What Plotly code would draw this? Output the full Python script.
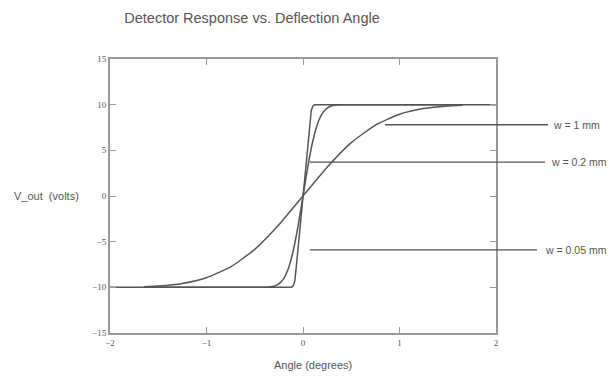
import plotly.graph_objects as go

# ---- data ----
x_w1 = [-1.65, -1.5, -1.25, -1.0, -0.75, -0.5, -0.25, 0.0, 0.25, 0.5, 0.75, 1.0, 1.25, 1.5, 1.65]
y_w1 = [-9.93, -9.85, -9.57, -8.95, -7.77, -5.84, -3.15, 0.0, 3.15, 5.84, 7.77, 8.95, 9.57, 9.85, 9.93]

x_w02 = [-1.65, -0.5, -0.4, -0.35, -0.3, -0.25, -0.2, -0.15, -0.1, -0.05, 0.0, 0.05, 0.1, 0.15, 0.2, 0.25, 0.3, 0.35, 0.4, 0.5, 1.65]
y_w02 = [-10.0, -10.0, -9.99, -9.96, -9.88, -9.63, -9.04, -7.88, -5.94, -3.22, 0.0, 3.22, 5.94, 7.88, 9.04, 9.63, 9.88, 9.96, 9.99, 10.0, 10.0]

x_w005 = [-2.0, -0.12, -0.1, -0.085, -0.07, -0.035, 0.0, 0.035, 0.07, 0.085, 0.1, 0.12, 2.0]
y_w005 = [-10.0, -10.0, -9.8, -9.3, -7.8, -3.9, 0.0, 3.9, 7.8, 9.3, 9.8, 10.0, 10.0]

labels = ["w = 1 mm", "w = 0.2 mm", "w = 0.05 mm"]
label_y = [7.8, 3.7, -5.9]
label_x_start = [0.85, 0.07, 0.07]

x_ticks = [-2, -1, 0, 1, 2]
y_ticks = [-15, -10, -5, 0, 5, 10, 15]
x_range = [-2, 2]
y_range = [-15, 15]

curve_color = "#555555"
frame_color = "#999999"
text_color = "#555555"

# page has an 8px body margin: work in page pixels and subtract it
OFF = 8
W, H = 614, 377
L, R, T, B = 110, 496, 59, 333

fig = go.Figure()
shapes_opts = [(x_w005, y_w005, "linear"), (x_w02, y_w02, "spline"), (x_w1, y_w1, "spline")]
for xs, ys, shp in shapes_opts:
    fig.add_trace(go.Scatter(x=xs, y=ys, mode="lines",
                             line=dict(color=curve_color, width=1.5, shape=shp, smoothing=0.5),
                             showlegend=False, hoverinfo="skip"))

def to_paper(xv):
    return (xv - x_range[0]) / (x_range[1] - x_range[0])

def px_to_paper_x(p):
    return (p - L) / (R - L)

def px_to_paper_y(p):
    return (B - p) / (B - T)

label_end_px = [548, 545, 537]   # right end of leader lines (page pixels)
text_px = [553, 551, 545]
for lab, yv, xs, ep, tp in zip(labels, label_y, label_x_start, label_end_px, text_px):
    fig.add_shape(type="line", xref="paper", yref="y", x0=to_paper(xs), x1=px_to_paper_x(ep), y0=yv, y1=yv,
                  line=dict(color=curve_color, width=1.3), layer="above")
    fig.add_annotation(xref="paper", yref="y", x=px_to_paper_x(tp), y=yv, text=lab, showarrow=False,
                       xanchor="left", yanchor="middle", xshift=-2,
                       font=dict(family="Liberation Sans, Arial", size=10.5, color=text_color))

axis_common = dict(showgrid=False, zeroline=False, showline=True, linecolor=frame_color, linewidth=2,
                   mirror="ticks", ticks="inside", ticklen=6, tickwidth=1.2, tickcolor=frame_color,
                   tickfont=dict(family="Liberation Serif, Times New Roman", size=9, color=text_color))

fig.update_xaxes(range=x_range, tickvals=x_ticks, **axis_common)
fig.update_yaxes(range=y_range, tickvals=y_ticks, **axis_common)

fig.add_annotation(xref="paper", yref="y", x=px_to_paper_x(46), y=0, text="V_out  (volts)", showarrow=False,
                   xanchor="center", yanchor="middle",
                   font=dict(family="Liberation Sans, Arial", size=11, color=text_color))
fig.add_annotation(xref="paper", yref="paper", x=px_to_paper_x(313), y=px_to_paper_y(365), text="Angle (degrees)",
                   showarrow=False, xanchor="center", yanchor="middle",
                   font=dict(family="Liberation Sans, Arial", size=11, color=text_color))

fig.update_layout(
    width=W - OFF, height=H - OFF,
    margin=dict(l=L - OFF, r=W - R, t=T - OFF, b=H - B),
    paper_bgcolor="white", plot_bgcolor="white",
    title=dict(text="Detector Response vs. Deflection Angle", xref="container", x=(252 - OFF) / (W - OFF),
               xanchor="center", yref="container", y=1 - (18 - OFF) / (H - OFF), yanchor="middle",
               font=dict(family="Liberation Sans, Arial", size=14.5, color=text_color)),
)

fig.write_html("out.html")
